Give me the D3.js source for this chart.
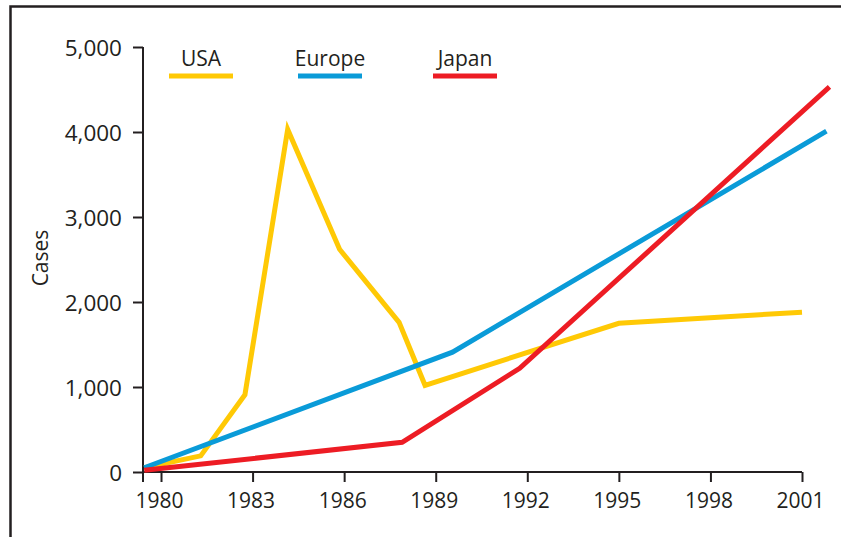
<!DOCTYPE html>
<html>
<head>
<meta charset="utf-8">
<script src="https://cdn.jsdelivr.net/npm/d3@7"></script>
<style>
  html, body { margin: 0; padding: 0; background: #fff; }
  svg { display: block; }
  text { font-family: "Open Sans", "DejaVu Sans", sans-serif; fill: #231f20; }
</style>
</head>
<body>
<script>
// Case counts per year for three regions
const seriesNames = ["USA", "Europe", "Japan"];
const seriesColors = ["#ffc905", "#0a9bd8", "#ed1c24"];

const usaYears   = [1979.45, 1981.3, 1982.75, 1984.15, 1985.85, 1987.8, 1988.65, 1995, 2001];
const usaCases   = [50, 190, 910, 4030, 2620, 1760, 1020, 1750, 1880];

const europeYears = [1979.45, 1989.55, 2001.8];
const europeCases = [50, 1410, 4010];

const japanYears = [1979.45, 1987.9, 1991.75, 2001.9];
const japanCases = [20, 350, 1220, 4530];

const xTickYears = [1980, 1983, 1986, 1989, 1992, 1995, 1998, 2001];
const yTickValues = [0, 1000, 2000, 3000, 4000, 5000];

const W = 841, H = 537;
const svg = d3.select("body").append("svg").attr("width", W).attr("height", H);

// Outer frame (left and top edges)
svg.append("path")
  .attr("d", "M10.5,537 L10.5,6.5 L841,6.5")
  .attr("fill", "none").attr("stroke", "#231f20").attr("stroke-width", 2.5);

const x = d3.scaleLinear().domain([1979.41, 2001]).range([143, 802]);
const y = d3.scaleLinear().domain([0, 5000]).range([472, 47]);

// Y axis
const yAxis = svg.append("g").attr("transform", "translate(143,0)")
  .call(d3.axisLeft(y).tickValues(yTickValues).tickSize(10).tickPadding(11)
    .tickFormat(d3.format(",")));
yAxis.attr("font-size", null).attr("font-family", null);
yAxis.select(".domain").attr("d", "M0,47 L0,482");
yAxis.selectAll("line, .domain").attr("stroke", "#231f20").attr("stroke-width", 2);
yAxis.selectAll("text").style("font-size", "22.5px")
  .attr("fill", "#231f20").attr("dy", "0.36em");

// X axis
const xAxis = svg.append("g").attr("transform", "translate(0,472)")
  .call(d3.axisBottom(x).tickValues(xTickYears).tickSize(10).tickPadding(11)
    .tickFormat(d3.format("d")));
xAxis.attr("font-size", null).attr("font-family", null);
xAxis.select(".domain").attr("d", "M143,0 L802,0");
xAxis.selectAll("line, .domain").attr("stroke", "#231f20").attr("stroke-width", 2);
xAxis.selectAll("text").style("font-size", "21px")
  .attr("fill", "#231f20").attr("dx", "-2");

// Axis title
svg.append("text")
  .attr("transform", "translate(48,258) rotate(-90)")
  .attr("text-anchor", "middle")
  .style("font-size", "21px")
  .text("Cases");

// Lines
const line = d3.line().x(d => x(d[0])).y(d => y(d[1]));
const seriesData = [
  d3.zip(usaYears, usaCases),
  d3.zip(europeYears, europeCases),
  d3.zip(japanYears, japanCases)
];
seriesData.forEach((pts, i) => {
  svg.append("path")
    .datum(pts)
    .attr("d", line)
    .attr("fill", "none")
    .attr("stroke", seriesColors[i])
    .attr("stroke-width", 5)
    .attr("stroke-linejoin", "miter");
});

// Legend
const legendX = [169, 298, 433];
seriesNames.forEach((name, i) => {
  const g = svg.append("g").attr("transform", `translate(${legendX[i]},0)`);
  g.append("line").attr("x1", 0).attr("x2", 64).attr("y1", 76).attr("y2", 76)
    .attr("stroke", seriesColors[i]).attr("stroke-width", 5);
  g.append("text").attr("x", 32).attr("y", 66).attr("text-anchor", "middle")
    .style("font-size", "21px").text(name);
});
</script>
</body>
</html>
